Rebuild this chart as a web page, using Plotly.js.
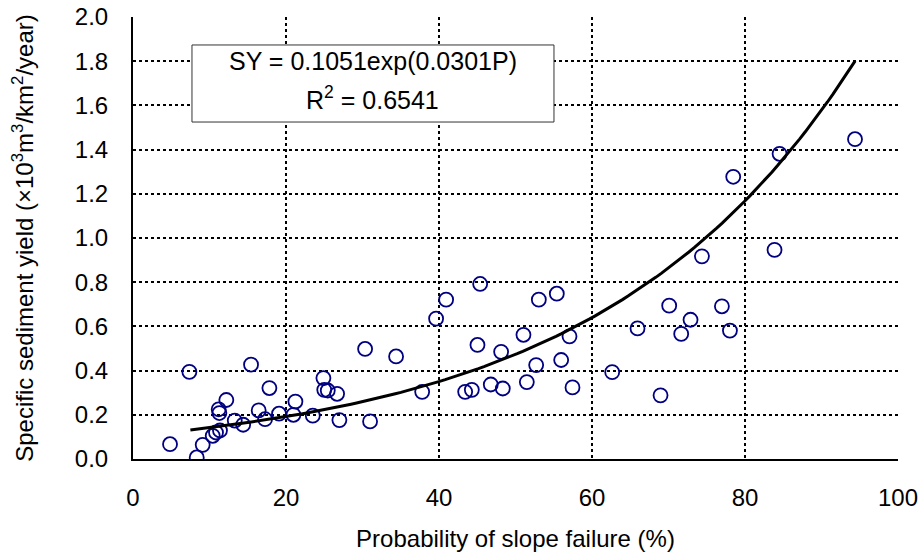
<!DOCTYPE html>
<html>
<head>
<meta charset="utf-8">
<script src="https://cdn.plot.ly/plotly-3.0.1.min.js"></script>
<style>html,body{margin:0;padding:0;background:#fff;}#chart{width:919px;height:558px;}</style>
</head>
<body>
<div id="chart"></div>
<script>
// Observed data: probability of slope failure (%) vs specific sediment yield
const slopeFailure = [4.84, 7.37, 8.33, 9.11, 10.42, 10.85, 11.37, 11.2, 11.29, 12.2,
  13.3, 14.4, 15.43, 16.43, 17.26, 17.83, 19.09, 20.97, 21.23, 23.5,
  24.89, 25.0, 25.46, 26.68, 26.98, 30.34, 30.99, 34.39, 37.8, 39.62,
  40.93, 45.38, 43.42, 44.29, 45.03, 46.77, 48.12, 48.34, 51.04, 51.48,
  53.05, 52.7, 55.4, 55.97, 57.06, 57.45, 62.64, 65.95, 68.96, 70.09,
  71.66, 72.88, 74.37, 76.98, 78.03, 78.46, 83.86, 84.52, 94.38];
const sedimentYield = [0.067, 0.394, 0.007, 0.064, 0.105, 0.12, 0.129, 0.225, 0.208, 0.267,
  0.174, 0.155, 0.427, 0.22, 0.18, 0.321, 0.205, 0.2, 0.26, 0.196,
  0.366, 0.313, 0.31, 0.295, 0.176, 0.498, 0.17, 0.464, 0.304, 0.635,
  0.721, 0.792, 0.304, 0.313, 0.516, 0.337, 0.485, 0.319, 0.562, 0.348,
  0.721, 0.425, 0.748, 0.448, 0.555, 0.324, 0.393, 0.591, 0.288, 0.694,
  0.566, 0.63, 0.917, 0.691, 0.581, 1.277, 0.946, 1.381, 1.447];

// Fitted trendline as printed on the chart: SY = 0.1051 exp(0.0301 P)
const fitA = 0.1051;
const fitB = 0.0301;
const fitStart = 7.5;
const fitEnd = 94.4;
const equationText = "SY = 0.1051exp(0.0301P)";
const r2Text = "R<sup>2</sup> = 0.6541";

const xTicks = [0, 20, 40, 60, 80, 100];
const yTicks = [0, 0.2, 0.4, 0.6, 0.8, 1.0, 1.2, 1.4, 1.6, 1.8, 2.0];

const fitX = [], fitY = [];
const nFit = 120;
for (let i = 0; i <= nFit; i++) {
  const p = fitStart + (fitEnd - fitStart) * i / nFit;
  fitX.push(p);
  fitY.push(fitA * Math.exp(fitB * p));
}

const FONT = "Arial, 'Liberation Sans', sans-serif";

const traces = [
  {
    x: slopeFailure, y: sedimentYield, type: 'scatter', mode: 'markers',
    marker: {symbol: 'circle-open', size: 14, color: '#000080', line: {width: 1.8, color: '#000080'}},
    showlegend: false, hoverinfo: 'x+y'
  },
  {
    x: fitX, y: fitY, type: 'scatter', mode: 'lines',
    line: {color: '#000000', width: 3},
    showlegend: false, hoverinfo: 'skip'
  }
];

const layout = {
  width: 919, height: 558,
  margin: {l: 133, r: 21, t: 17, b: 99},
  paper_bgcolor: '#ffffff', plot_bgcolor: '#ffffff',
  font: {family: FONT, color: '#000000', size: 24},
  showlegend: false,
  xaxis: {
    range: [0, 100], tickvals: xTicks, ticktext: xTicks.map(String),
    showgrid: true, gridcolor: '#000000', griddash: 'dot', gridwidth: 2,
    zeroline: false, showline: true, linecolor: '#000000', linewidth: 2,
    ticks: 'outside', ticklen: 16, tickcolor: 'rgba(0,0,0,0)',
    tickfont: {size: 24, family: FONT},
    title: {text: 'Probability of slope failure (%)', font: {size: 24, family: FONT}, standoff: 20}
  },
  yaxis: {
    range: [0, 2.0], tickvals: yTicks, ticktext: yTicks.map(v => v.toFixed(1)),
    showgrid: true, gridcolor: '#000000', griddash: 'dot', gridwidth: 2,
    zeroline: false, showline: true, linecolor: '#000000', linewidth: 2,
    ticks: 'outside', ticklen: 18, tickcolor: 'rgba(0,0,0,0)',
    tickfont: {size: 24, family: FONT},
    title: {text: 'Specific sediment yield (×10<sup>3</sup>m<sup>3</sup>/km<sup>2</sup>/year)', font: {size: 24, family: FONT}, standoff: 34}
  },
  shapes: [{
    type: 'rect', xref: 'paper', yref: 'paper', layer: 'above',
    x0: 0.0771, x1: 0.5503, y0: 0.7624, y1: 0.9367,
    fillcolor: '#ffffff', line: {color: '#333333', width: 1}
  }],
  annotations: [
    {
      xref: 'paper', yref: 'paper', x: 0.3137, y: 0.9005, xanchor: 'center', yanchor: 'middle',
      text: equationText, showarrow: false, align: 'center',
      font: {size: 25, family: FONT, color: '#000000'}
    },
    {
      xref: 'paper', yref: 'paper', x: 0.3137, y: 0.8167, xanchor: 'center', yanchor: 'middle',
      text: r2Text, showarrow: false, align: 'center',
      font: {size: 25, family: FONT, color: '#000000'}
    }
  ]
};

Plotly.newPlot('chart', traces, layout, {displayModeBar: false, staticPlot: true});
</script>
</body>
</html>
